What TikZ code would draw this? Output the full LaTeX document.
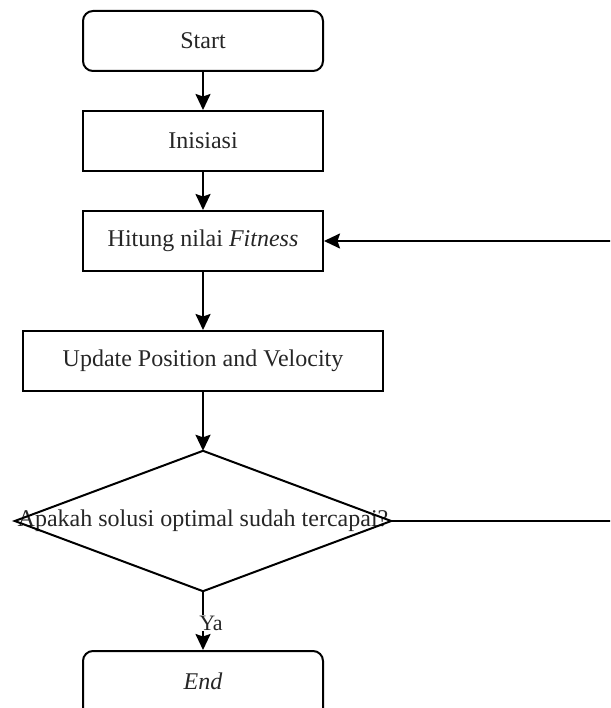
\documentclass[tikz,border=0pt]{standalone}
\usepackage{fontspec}
\setmainfont{Liberation Serif}
\usetikzlibrary{arrows.meta}
\begin{document}
\begin{tikzpicture}[x=1pt,y=-1pt,
  txt/.style={font=\fontsize{24}{29}\selectfont, text=black!85},
  box/.style={txt,draw,line width=2pt,minimum width=240pt,minimum height=60pt,inner sep=0pt},
  wide/.style={box,minimum width=360pt},
  term/.style={box,rounded corners=10pt},
  dec/.style={txt,minimum width=376pt,minimum height=140pt,inner sep=0pt},
  conn/.style={line width=2pt,-{Stealth[length=16pt,width=15pt,inset=2.5pt]}},
  lbl/.style={font=\fontsize{22}{26}\selectfont, text=black!85, fill=white, inner sep=1pt}]
\clip (0,0) rectangle (610,708);
\node[term] (start) at (203,41) {Start};
\node[box] (ini) at (203,141) {Inisiasi};
\node[box] (hit) at (203,241) {Hitung nilai \textit{Fitness}};
\node[wide] (upd) at (203,361) {Update Position and Velocity};
\node[dec] (dia) at (203,521) {Apakah solusi optimal sudah tercapai?};
\draw[line width=2pt] (dia.north) -- (dia.east) -- (dia.south) -- (dia.west) -- cycle;
\node[term, minimum height=70pt, text depth=0pt] (end) at (203,686) {};
\node[txt] (endtxt) at (203,681) {\textit{End}};
\coordinate (r1) at (640,521);
\coordinate (r2) at (640,241);
\draw[conn] (start) -- (ini);
\draw[conn] (ini) -- (hit);
\draw[conn] (hit) -- (upd);
\draw[conn] (upd) -- (dia.north);
\draw[conn] (dia.south) -- (end);
\node[lbl] (ya) at (211,623) {Ya};
\draw[conn] (dia.east) -- (r1) -- (r2) -- (hit.east);
\end{tikzpicture}
\end{document}
